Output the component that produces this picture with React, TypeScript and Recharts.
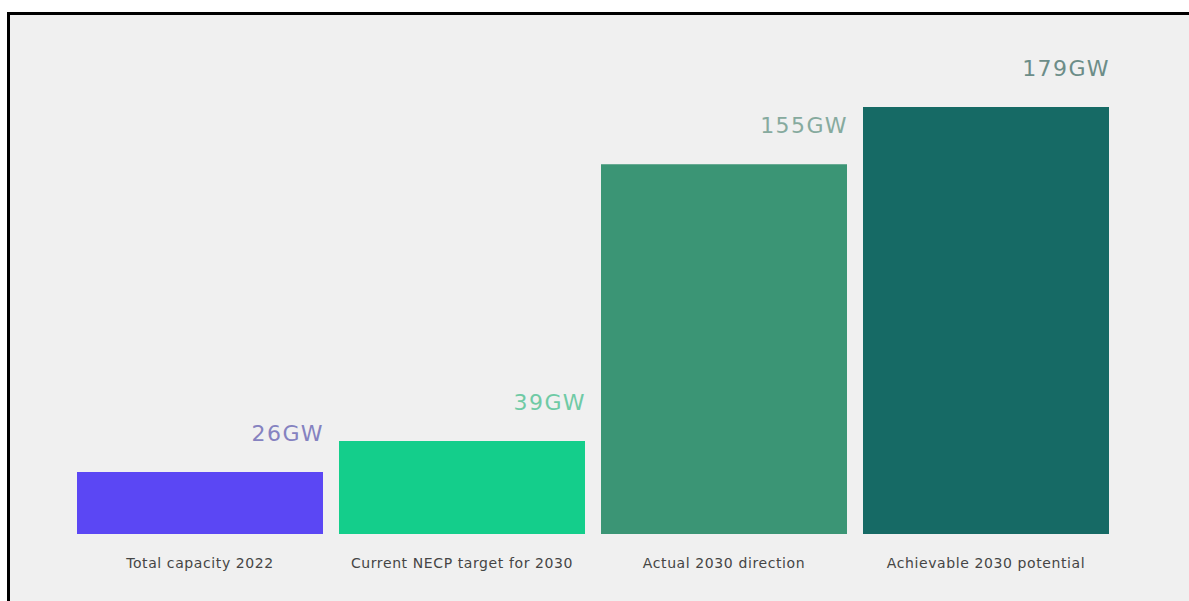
import React from 'react';
import { BarChart, Bar, XAxis, YAxis, Cell, LabelList } from 'recharts';

const categories = [
  'Total capacity 2022',
  'Current NECP target for 2030',
  'Actual 2030 direction',
  'Achievable 2030 potential',
];
const capacityGW = [26, 39, 155, 179];
const valueLabels = ['26GW', '39GW', '155GW', '179GW'];
const barColors = ['#5b47f4', '#14ce8b', '#3b9575', '#166a65'];
const labelColors = ['#8582c0', '#6fcaa5', '#86aa9e', '#6c8d88'];

const data = categories.map((c, i) => ({ name: c, value: capacityGW[i] }));

const renderLabel = (props: any) => {
  const { x, y, width, index } = props;
  return (
    <text
      x={Number(x) + Number(width) + 1}
      y={Number(y) - 31}
      textAnchor="end"
      fill={labelColors[index]}
      fontSize={22}
      fontFamily="DejaVu Sans"
      letterSpacing={1.4}
    >
      {valueLabels[index]}
    </text>
  );
};

export default function App() {
  return (
    <div style={{ position: 'fixed', left: 0, top: 0, width: 1189, height: 601, overflow: 'hidden', background: '#ffffff' }}>
      <div
        style={{
          position: 'absolute',
          left: 7,
          top: 12,
          width: 1250,
          height: 650,
          background: '#f0f0f0',
          border: '3px solid #000',
        }}
      />
      <div style={{ position: 'absolute', left: 0, top: 0 }}>
        <BarChart
          width={1189}
          height={601}
          data={data}
          margin={{ top: 57, right: 72, bottom: 27, left: 69 }}
          barCategoryGap={8}
        >
          <XAxis
            dataKey="name"
            height={40}
            axisLine={false}
            tickLine={false}
            tickSize={0}
            tickMargin={24}
            interval={0}
            tick={{ fill: '#454545', fontSize: 14, fontFamily: 'DejaVu Sans', letterSpacing: 0.6 }}
          />
          <YAxis hide domain={[0, 200]} />
          <Bar dataKey="value" isAnimationActive={false}>
            {data.map((d, i) => (
              <Cell key={d.name} fill={barColors[i]} />
            ))}
            <LabelList dataKey="value" content={renderLabel} />
          </Bar>
        </BarChart>
      </div>
    </div>
  );
}
